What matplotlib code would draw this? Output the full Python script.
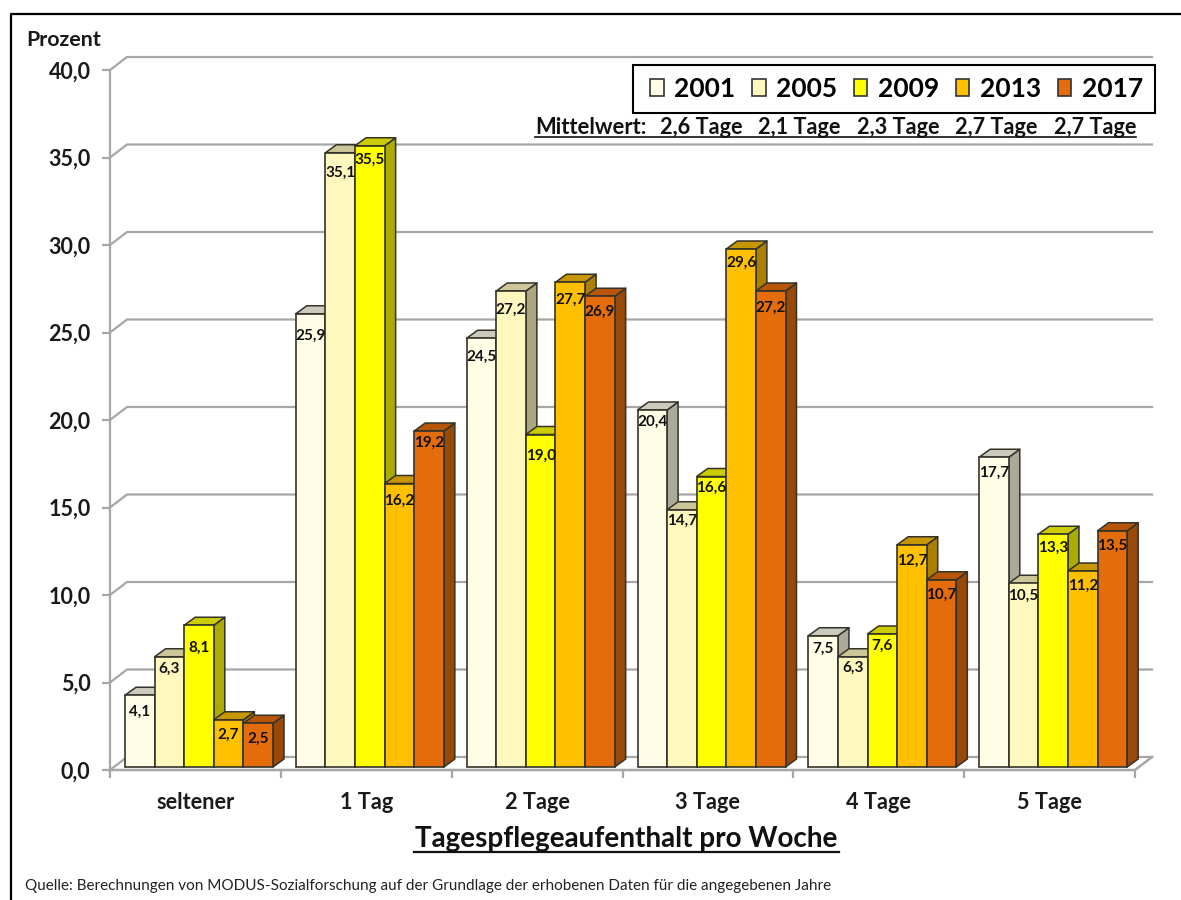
import matplotlib
matplotlib.use("Agg")
import matplotlib.pyplot as plt
from matplotlib.patches import Polygon, Patch, Rectangle
from matplotlib.lines import Line2D
from matplotlib.legend_handler import HandlerPatch

categories = ["seltener", "1 Tag", "2 Tage", "3 Tage", "4 Tage", "5 Tage"]
v2001 = [4.1, 25.9, 24.5, 20.4, 7.5, 17.7]
v2005 = [6.3, 35.1, 27.2, 14.7, 6.3, 10.5]
v2009 = [8.1, 35.5, 19.0, 16.6, 7.6, 13.3]
v2013 = [2.7, 16.2, 27.7, 29.6, 12.7, 11.2]
v2017 = [2.5, 19.2, 26.9, 27.2, 10.7, 13.5]
years = ["2001", "2005", "2009", "2013", "2017"]
means = ["2,6 Tage", "2,1 Tage", "2,3 Tage", "2,7 Tage", "2,7 Tage"]
yticks = [0, 5, 10, 15, 20, 25, 30, 35, 40]

series = [v2001, v2005, v2009, v2013, v2017]
front = ["#FFFDE6", "#FFF8BE", "#FFFF00", "#FFC000", "#E46C0A"]
side = ["#ABA99A", "#ABA680", "#ABAB00", "#AB8000", "#984807"]
top = ["#CCCABC", "#CCC698", "#CCCC00", "#C89600", "#B75608"]
edge = "#33332A"
grid = "#A6A6A6"
FONT = "Lato"
W, H = 1181, 900
plt.rcParams["font.family"] = [FONT, "DejaVu Sans"]

fig = plt.figure(figsize=(W / 100, H / 100), dpi=100, facecolor="white")
ax = fig.add_axes([110 / W, (H - 770) / H, 1025 / W, 700 / H])
ax.set_xlim(0, 6)
ax.set_ylim(0, 40)
ax.patch.set_alpha(0)
PX = 6 / 1025      # data units per pixel, x
PY = 40 / 700      # data units per pixel, y
for s in ("top", "right", "bottom"):
    ax.spines[s].set_visible(False)
ax.spines["left"].set_color(grid)
ax.spines["left"].set_linewidth(1.6)


def pfx(x):
    return x / W


def pfy(y):
    return 1 - y / H


# Back wall and floor
wx, wy = 17 * PX, 13 * PY
for t in yticks:
    ax.plot([0, wx, 6 + wx], [t, t + wy, t + wy], color=grid, lw=1.6, clip_on=False,
            zorder=1, solid_joinstyle="miter")
ax.plot([0, 6, 6 + wx], [0, 0, wy], color=grid, lw=1.8, clip_on=False, zorder=1)

ax.set_yticks(yticks)
ax.set_yticklabels([f"{t:.1f}".replace(".", ",") for t in yticks], fontsize=15.5,
                   fontweight="bold", color="#1A1A1A")
ax.tick_params(axis="y", length=6, width=1.6, color=grid, pad=8)
ax.set_xticks(range(7))
ax.set_xticklabels([])
ax.tick_params(axis="x", which="major", length=6, width=1.6, color=grid, bottom=True)
ax.set_xticks([i + 0.5 for i in range(6)], minor=True)
ax.set_xticklabels(categories, minor=True, fontsize=15.6, fontweight="bold", color="#1A1A1A")
ax.tick_params(axis="x", which="minor", length=0, pad=15.5)
ax.spines["left"].set_bounds(0, 40)

# 3-D bars
offset0 = 15 * PX
bw = 29.6 * PX
dx, dy = 11 * PX, 8 * PY
base = 3 * PY
drops = [[16, 11, 22, 14, 15], [21, 19, 13, 16, 11], [18, 18, 20, 17, 15],
         [11, 10, 10, 13, 16], [12, 10, 11, 15, 14], [15, 12, 13, 14, 14]]
z = 5
for g in range(len(categories)):
    for s, vals in enumerate(series):
        v = vals[g]
        x0 = g + offset0 + s * bw
        x1 = x0 + bw
        yb = base
        yt = yb + v
        ax.add_patch(Polygon([(x1, yb), (x1 + dx, yb + dy), (x1 + dx, yt + dy), (x1, yt)],
                             closed=True, fc=side[s], ec=edge, lw=1.1, zorder=z,
                             clip_on=False, joinstyle="round"))
        ax.add_patch(Polygon([(x0, yt), (x0 + dx, yt + dy), (x1 + dx, yt + dy), (x1, yt)],
                             closed=True, fc=top[s], ec=edge, lw=1.1, zorder=z,
                             clip_on=False, joinstyle="round"))
        ax.bar(x0, v, width=bw, bottom=yb, align="edge", color=front[s], edgecolor=edge,
               linewidth=1.2, zorder=z + 0.1, clip_on=False)
        ax.text(x0 + bw / 2, yt - (drops[g][s] + 1) * PY, f"{v:.1f}".replace(".", ","),
                ha="center", va="center", fontsize=11, fontweight="bold",
                color="#111111", zorder=60)
        z += 1


# Legend
def inset_swatch(legend, orig_handle, xdescent, ydescent, width, height, fontsize):
    return Rectangle((4 - xdescent, -ydescent), width - 4, height)


handles = [Patch(facecolor=c, edgecolor="#333333", linewidth=1.2, label=y)
           for c, y in zip(front, years)]
leg = ax.legend(handles=handles, ncol=5, loc="upper left",
                bbox_to_anchor=((633 - 110) / 1025, (770 - 65) / 700),
                prop={"family": FONT, "weight": "bold", "size": 19},
                frameon=True, fancybox=False, framealpha=1, edgecolor="black",
                handlelength=0.72, handleheight=0.62, handletextpad=0.4,
                columnspacing=0.42, borderpad=0.45, borderaxespad=0,
                handler_map={Patch: HandlerPatch(patch_func=inset_swatch)})
leg.get_frame().set_linewidth(1.5)
leg.set_zorder(70)

# Means line
mean_xs = [660, 758, 857, 955, 1054]
fig.text(pfx(535), pfy(127), "Mittelwert:", fontsize=15.8, fontweight="bold",
         ha="left", va="center", color="#111111")
for mx, m in zip(mean_xs, means):
    fig.text(pfx(mx), pfy(127), m, fontsize=15.6, fontweight="bold", ha="left",
             va="center", color="#111111")
fig.add_artist(Line2D([pfx(535), pfx(1136)], [pfy(137), pfy(137)], color="#111111", lw=1.2))

# Titles
fig.text(pfx(26), pfy(38), "Prozent", fontsize=15.4, fontweight="bold", ha="left",
         va="center_baseline", color="#1A1A1A")
fig.text(pfx(626), pfy(839), "Tagespflegeaufenthalt pro Woche", fontsize=20.1,
         fontweight="bold", ha="center", va="center", color="#111111")
fig.add_artist(Line2D([pfx(414), pfx(839)], [pfy(852), pfy(852)], color="#111111", lw=1.6))
fig.text(pfx(25), pfy(886),
         "Quelle: Berechnungen von MODUS-Sozialforschung auf der Grundlage der erhobenen Daten für die angegebenen Jahre",
         fontsize=11, ha="left", va="center", color="#222222")

# Frame
fig.add_artist(Line2D([pfx(10.5), pfx(10.5), 1], [0, pfy(14), pfy(14)], color="black", lw=1.6))

fig.savefig("out.png", dpi=100)
